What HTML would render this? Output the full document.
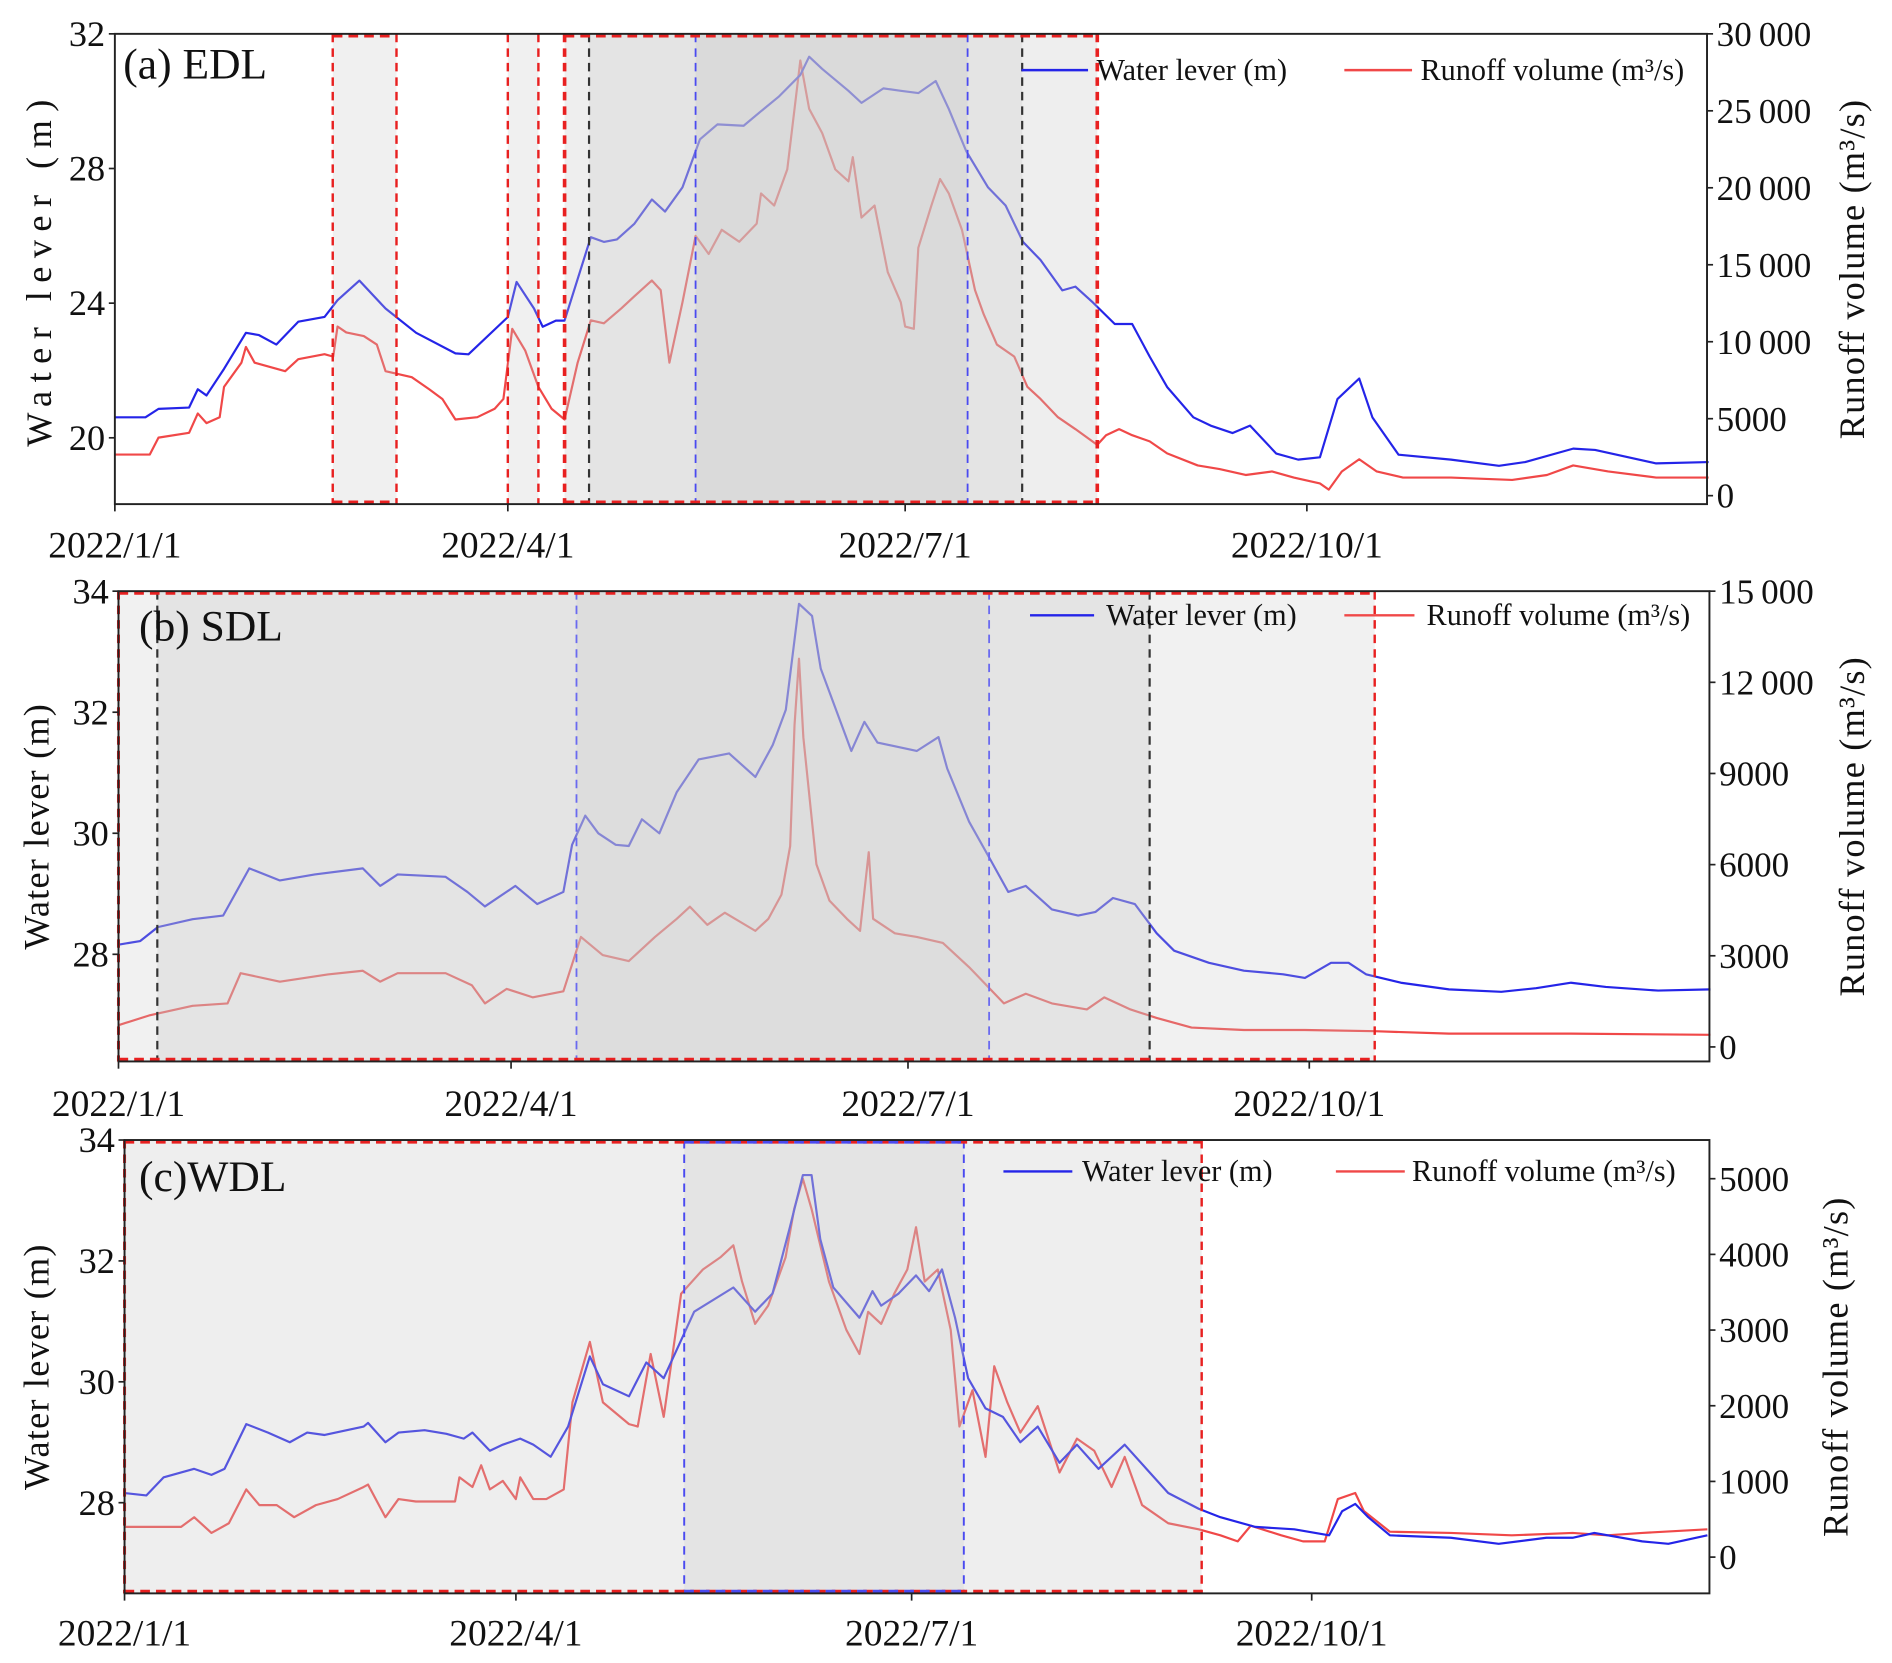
<!DOCTYPE html>
<html><head><meta charset="utf-8"><style>
html,body{margin:0;padding:0;background:#fff;}
svg{display:block;font-family:"Liberation Serif",serif;}
</style></head><body>
<svg id="chart" xmlns="http://www.w3.org/2000/svg" width="1892" height="1663" viewBox="0 0 1565 1375.6"></svg>
<script>
// ---------- data (day-of-year, values) ----------
const aWaterDays=[0,7,10,17,19,21,25,30,33,37,42,48,51,56,62,69,78,81,90,92,96,98,101,103,109,112,115,119,123,126,130,134,138,144,148,152,157,159,162,168,171,176,180,184,188,191,195,200,204,208,212,217,220,224,229,233,237,241,247,251,256,260,266,271,276,280,285,288,294,306,317,323,334,339,353,365];
const aWater=[20.61,20.61,20.86,20.90,21.44,21.26,22.05,23.12,23.05,22.77,23.45,23.59,24.09,24.67,23.84,23.12,22.51,22.48,23.59,24.63,23.84,23.30,23.48,23.48,25.96,25.82,25.89,26.36,27.08,26.72,27.44,28.87,29.31,29.27,29.70,30.13,30.78,31.32,30.96,30.31,29.95,30.38,30.31,30.24,30.60,29.77,28.51,27.44,26.90,25.82,25.28,24.38,24.49,24.02,23.38,23.38,22.41,21.51,20.61,20.36,20.14,20.36,19.53,19.35,19.42,21.15,21.76,20.61,19.50,19.35,19.17,19.28,19.68,19.64,19.24,19.28];
const aRunDays=[0,8,10,17,19,21,24,25,29,30,32,39,42,48,50,51,53,57,60,62,68,72,75,78,83,87,89,91,94,97,100,103,106,109,112,116,119,123,125,126,127,130,133,136,139,143,147,148,151,154,156,157,159,162,165,168,169,171,174,177,180,181,183,184,187,189,191,194,197,199,202,206,209,212,216,220,225,227,230,233,237,241,248,253,259,265,270,276,278,281,285,289,295,306,320,328,334,342,353,365];
const aRun=[2670,2670,3770,4080,5340,4710,5100,7070,8640,9660,8640,8090,8870,9190,9030,10990,10600,10370,9820,8090,7700,6910,6280,4950,5100,5650,6280,10840,9420,7070,5650,4950,8640,11390,11200,12170,12960,13980,13350,10990,8640,12560,16880,15700,17270,16490,17670,19630,18850,21200,25910,28270,25130,23550,21200,20420,21990,18060,18850,14530,12560,10990,10840,16100,18850,20570,19630,17270,13350,11780,9820,9030,7070,6280,5100,4320,3300,3930,4320,3930,3530,2750,1960,1730,1340,1570,1180,790,390,1570,2360,1570,1180,1180,1020,1340,1960,1570,1180,1180];
const bWaterDays=[0,5,9,17,24,30,37,45,56,60,64,75,80,84,91,96,102,104,107,110,114,117,120,124,128,133,140,146,150,153,156,159,161,166,168,171,174,183,188,190,195,200,204,208,214,220,224,228,233,238,242,250,258,267,272,278,282,286,294,305,317,325,333,341,353,365];
const bWater=[28.16,28.22,28.45,28.58,28.64,29.42,29.22,29.32,29.42,29.13,29.32,29.28,29.03,28.79,29.13,28.83,29.03,29.81,30.29,30.0,29.81,29.79,30.23,30.0,30.68,31.22,31.32,30.93,31.46,32.04,33.79,33.59,32.72,31.75,31.36,31.84,31.50,31.36,31.59,31.07,30.19,29.55,29.03,29.13,28.74,28.64,28.70,28.93,28.83,28.35,28.06,27.86,27.73,27.67,27.61,27.86,27.86,27.67,27.53,27.42,27.38,27.44,27.53,27.46,27.40,27.42];
const bRunDays=[0,7,17,25,28,37,48,56,60,64,75,81,84,89,95,102,106,111,117,123,128,131,135,139,146,149,152,154,155,156,157,160,163,167,170,172,173,178,183,189,195,199,203,208,214,222,226,232,238,246,258,272,288,305,333,365];
const bRun=[716,1035,1353,1433,2428,2150,2388,2507,2150,2428,2428,2030,1433,1910,1632,1831,3622,3025,2826,3622,4219,4617,4020,4418,3821,4219,5015,6607,10587,12776,10189,6010,4816,4219,3821,6408,4219,3741,3622,3423,2627,2030,1433,1751,1433,1234,1632,1234,955,637,557,557,517,438,438,398];
const cWaterDays=[0,5,9,16,20,23,28,33,38,42,46,55,56,60,63,69,74,78,80,84,87,91,94,98,102,107,110,116,120,124,131,140,145,149,153,156,158,160,163,169,172,174,178,182,185,188,191,194,198,202,206,210,215,219,224,230,235,240,247,252,260,269,277,280,283,286,291,305,316,327,333,338,349,355,364];
const cWater=[28.16,28.12,28.42,28.56,28.46,28.56,29.30,29.16,29.0,29.16,29.12,29.26,29.32,29.0,29.16,29.2,29.14,29.06,29.16,28.86,28.96,29.06,28.96,28.76,29.26,30.42,29.96,29.76,30.32,30.06,31.16,31.56,31.16,31.46,32.56,33.42,33.42,32.36,31.56,31.06,31.5,31.26,31.46,31.76,31.5,31.86,31.06,30.06,29.56,29.42,29.0,29.26,28.66,28.96,28.56,28.96,28.56,28.16,27.9,27.76,27.6,27.56,27.46,27.86,27.98,27.76,27.46,27.42,27.32,27.42,27.42,27.5,27.36,27.32,27.46];
const cRunDays=[0,13,16,20,24,28,31,35,39,44,49,55,56,60,63,67,76,77,80,82,84,87,90,91,94,97,101,103,107,110,115,116,118,121,124,128,133,137,140,142,145,148,152,154,156,158,162,166,169,171,174,177,180,182,184,187,190,192,195,198,200,203,206,210,215,219,223,227,230,234,240,247,252,256,259,266,271,276,279,283,285,291,305,319,333,341,349,364];
const cRun=[399,399,527,319,447,894,687,687,527,687,767,926,958,527,767,735,735,1054,926,1214,894,1006,767,1054,767,767,894,2044,2843,2044,1805,1757,1725,2683,1853,3481,3801,3960,4120,3641,3082,3322,3960,4599,4999,4599,3641,3002,2683,3242,3082,3481,3801,4360,3641,3801,3002,1725,2204,1325,2523,2044,1645,1996,1118,1565,1405,926,1325,687,447,367,287,208,415,287,208,208,767,846,607,335,319,287,319,287,319,367];
const xTickDays=[0,90,181,273];
const xTickLabels=["2022/1/1","2022/4/1","2022/7/1","2022/10/1"];
const aLeftTicks=[20,24,28,32];
const aRightTicks=[0,5000,10000,15000,20000,25000,30000];
const bLeftTicks=[28,30,32,34];
const bRightTicks=[0,3000,6000,9000,12000,15000];
const cLeftTicks=[28,30,32,34];
const cRightTicks=[0,1000,2000,3000,4000,5000];

const NS="http://www.w3.org/2000/svg";
const svg=document.getElementById('chart');
function mk(tag,attrs,parent){const e=document.createElementNS(NS,tag);for(const k in attrs)e.setAttribute(k,attrs[k]);(parent||svg).appendChild(e);return e;}
function fmt(v){return v>=10000? String(v).slice(0,-3)+"\u2009"+String(v).slice(-3):String(v);}

function panel(p){
  const g=mk('g',{});
  
  
  const x=d=>p.x0+(d/273)*(p.x273-p.x0);
  const yL=v=>p.yTop+(p.lTop-v)/(p.lTop-p.lBot)*(p.yBot-p.yTop);
  const yR=v=>p.rTopY+(p.rTop-v)/p.rTop*(p.rZeroY-p.rTopY);
  function line(days,vals,fy,col,nm){
    let d='';days.forEach((dd,i)=>{d+=(i?'L':'M')+x(dd).toFixed(1)+' '+fy(vals[i]).toFixed(1);});
    const pl=mk('path',{d:d,fill:'none',stroke:col,'stroke-width':1.8,'stroke-linejoin':'round'},g);
    
    
  }
  line(p.rDays,p.rVals,yR,'#f04848',p.key+'-runoff-line');
  line(p.wDays,p.wVals,yL,'#2424e8',p.key+'-water-line');
  p.regions.forEach((r,i)=>{
    const rc=mk('rect',{x:x(r[0]),y:p.yTop,width:x(r[1])-x(r[0]),height:p.yBot-p.yTop,fill:'rgb(200,200,200)','fill-opacity':r[2]},g);
    
    
  });
  p.dashes.forEach(dl=>{
    mk('line',{x1:x(dl[0]),x2:x(dl[0]),y1:p.yTop,y2:p.yBot,stroke:dl[1],'stroke-width':dl[2],'stroke-dasharray':'7 5'},g);
  });
  p.hdashes.forEach(h=>{
    [p.yTop+1.5,p.yBot-1.5].forEach(yy=>mk('line',{x1:x(h[0]),x2:x(h[1]),y1:yy,y2:yy,stroke:h[2],'stroke-width':3,'stroke-dasharray':'8 5'},g));
  });
  const fr=mk('rect',{x:p.x0,y:p.yTop,width:p.x1-p.x0,height:p.yBot-p.yTop,fill:'none',stroke:'#222','stroke-width':1.6},g);
  
  
  xTickDays.forEach((d,i)=>{
    mk('line',{x1:x(d),x2:x(d),y1:p.yBot,y2:p.yBot+6,stroke:'#222','stroke-width':1.4},g);
    const t=mk('text',{x:x(d),y:p.xLabY,'font-size':31,'text-anchor':'middle',fill:'#111'},g);
    t.textContent=xTickLabels[i];
    
    
  });
  p.lTicks.forEach(v=>{
    mk('line',{x1:p.x0-5,x2:p.x0,y1:yL(v),y2:yL(v),stroke:'#222','stroke-width':1.4},g);
    const t=mk('text',{x:p.x0-8,y:yL(v)+10,'font-size':30,'text-anchor':'end',fill:'#111'},g);
    t.textContent=v;
    
    
  });
  p.rTicks.forEach(v=>{
    mk('line',{x1:p.x1,x2:p.x1+5,y1:yR(v),y2:yR(v),stroke:'#222','stroke-width':1.4},g);
    const t=mk('text',{x:p.x1+8,y:yR(v)+10,'font-size':29,fill:'#111'},g);
    t.textContent=fmt(v);
    
    
  });
  const cy=(p.yTop+p.yBot)/2;
  const lt=mk('text',{x:0,y:0,'font-size':30,'letter-spacing':p.lSpace,'text-anchor':'middle',fill:'#111',transform:`translate(${p.lLabX},${cy}) rotate(-90)`},g);
  lt.textContent='Water lever (m)';
  
  
  const rt=mk('text',{x:0,y:0,'font-size':30,'letter-spacing':1,'text-anchor':'middle',fill:'#111',transform:`translate(${p.rLabX},${cy}) rotate(-90)`},g);
  rt.textContent='Runoff volume (m³/s)';
  
  
  const tt=mk('text',{x:p.titleX,y:p.titleY,'font-size':36,fill:'#111'},g);
  tt.textContent=p.title;
  
  
  const L=p.leg;
  mk('line',{x1:L[0],x2:L[1],y1:L[6],y2:L[6],stroke:'#2424e8','stroke-width':2},g);
  const l1=mk('text',{x:L[2],y:L[6]+8,'font-size':25,fill:'#111'},g);
  l1.textContent='Water lever (m)';
  
  
  mk('line',{x1:L[3],x2:L[4],y1:L[6],y2:L[6],stroke:'#f04848','stroke-width':2},g);
  const l2=mk('text',{x:L[5],y:L[6]+8,'font-size':25,fill:'#111'},g);
  l2.textContent='Runoff volume (m³/s)';
  
  
}

panel({key:'a',name:'panel-a-edl',title:'(a) EDL',titleX:102,titleY:65,lSpace:7,
  x0:95,x1:1412,x273:1081,yTop:28,yBot:417,lTop:32,lBot:18.03,rTopY:28,rZeroY:410,rTop:30000,
  lTicks:aLeftTicks,rTicks:aRightTicks,wDays:aWaterDays,wVals:aWater,rDays:aRunDays,rVals:aRun,
  regions:[[49.9,64.5,0.28],[90,97,0.28],[103,225,0.3],[108.6,207.8,0.25],[133,195.3,0.35]],
  dashes:[[49.9,'#e82020',2],[64.5,'#e82020',2],[90,'#e82020',2],[97,'#e82020',2],[103,'#e82020',3],[225,'#e82020',3],[108.6,'#333',1.8],[207.8,'#333',1.8],[133,'#4a4af0',1.5],[195.3,'#4a4af0',1.5]],
  hdashes:[[49.9,64.5,'#e82020'],[103,225,'#e82020']],
  xLabY:461,lLabX:42,rLabX:1542,leg:[845,900,907,1112,1168,1175,58]});
panel({key:'b',name:'panel-b-sdl',title:'(b) SDL',titleX:115,titleY:530,lSpace:1,
  x0:98,x1:1414,x273:1083,yTop:489,yBot:878,lTop:34,lBot:26.23,rTopY:489,rZeroY:866,rTop:15000,
  lTicks:bLeftTicks,rTicks:bRightTicks,wDays:bWaterDays,wVals:bWater,rDays:bRunDays,rVals:bRun,
  regions:[[0,288,0.25],[8.9,236.4,0.3],[105,199.6,0.25]],
  dashes:[[0,'#e82020',2.5],[288,'#e82020',2],[8.9,'#333',1.8],[236.4,'#333',1.8],[105,'#6a6af0',1.5],[199.6,'#6a6af0',1.5]],
  hdashes:[[0,288,'#e82020']],
  xLabY:923,lLabX:40,rLabX:1542,leg:[852,905,915,1112,1170,1180,509]});
panel({key:'c',name:'panel-c-wdl',title:'(c)WDL',titleX:115,titleY:985,lSpace:1,
  x0:103,x1:1414,x273:1085,yTop:943,yBot:1318,lTop:34,lBot:26.5,rTopY:975,rZeroY:1288,rTop:5000,
  lTicks:cLeftTicks,rTicks:cRightTicks,wDays:cWaterDays,wVals:cWater,rDays:cRunDays,rVals:cRun,
  regions:[[0,247.7,0.3],[128.7,193,0.25]],
  dashes:[[0,'#e82020',2.5],[247.7,'#e82020',2],[128.7,'#4a4af0',1.6],[193,'#4a4af0',1.6]],
  hdashes:[[0,247.7,'#e82020'],[128.7,193,'#4a4af0']],
  xLabY:1361,lLabX:40,rLabX:1528,leg:[830,887,895,1105,1162,1168,969]});
</script>
</body></html>
